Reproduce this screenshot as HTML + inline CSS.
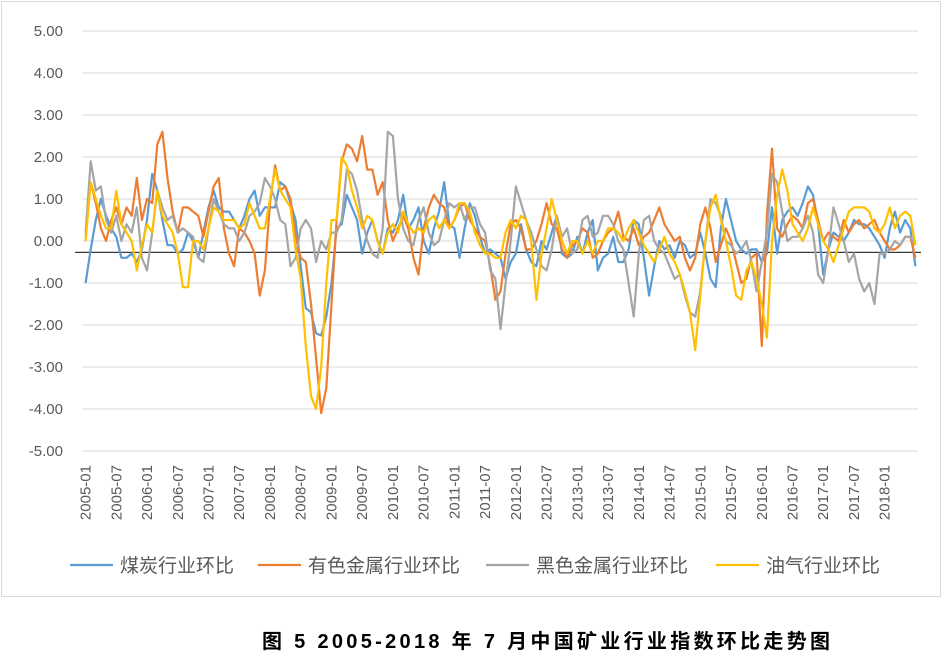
<!DOCTYPE html>
<html><head><meta charset="utf-8"><style>
body{margin:0;background:#fff;}
svg{display:block;font-family:"Liberation Sans","Noto Sans CJK SC",sans-serif;}
</style></head><body>
<svg id="chart" width="945" height="655" viewBox="0 0 945 655">
<rect x="1.5" y="1.5" width="939" height="595" fill="#fff" stroke="#d9d9d9"/>
<g id="grid"></g>
<g id="ylabels"></g>
<g id="xlabels"></g>
<g id="series"></g>
<g id="legend"></g>
<text x="262" y="648" font-size="20" font-weight="bold" fill="#000" textLength="568" lengthAdjust="spacing" font-family="'Liberation Sans','Noto Sans CJK SC',sans-serif">图 5  2005-2018 年 7 月中国矿业行业指数环比走势图</text>
</svg>
<script>
const yTicks=[5,4,3,2,1,0,-1,-2,-3,-4,-5];
const coal=[-1.0,-0.2,0.5,1.0,0.6,0.3,0.1,-0.4,-0.4,-0.3,-0.5,-0.2,
0.5,1.6,1.2,0.5,-0.1,-0.1,-0.3,-0.2,0.2,0.0,-0.4,0.2,
0.8,1.2,0.8,0.7,0.7,0.5,0.3,0.6,1.0,1.2,0.6,0.8,
0.8,0.8,1.4,1.3,0.9,0.5,-0.6,-1.6,-1.7,-2.2,-2.25,-1.8,
-1.0,0.3,0.4,1.1,0.8,0.5,-0.3,0.2,0.5,0.0,-0.3,0.3,
0.2,0.5,1.1,0.3,0.5,0.8,0.0,-0.3,0.3,0.7,1.4,0.4,
0.3,-0.4,0.3,0.9,0.6,0.1,-0.3,-0.2,-0.3,-0.4,-0.9,-0.5,
-0.3,0.4,-0.2,-0.5,-0.6,0.0,-0.2,0.2,0.6,-0.3,-0.4,-0.3,
0.1,-0.3,0.2,0.5,-0.7,-0.4,-0.3,0.1,-0.5,-0.5,-0.2,0.5,
0.4,-0.4,-1.3,-0.6,0.0,-0.2,-0.1,-0.4,0.0,-0.1,-0.4,-0.3,
0.2,-0.3,-0.9,-1.1,0.3,1.0,0.5,0.0,-0.2,-0.3,-0.2,-0.2,
-0.5,-0.3,0.8,-0.3,0.5,0.7,0.8,0.6,0.9,1.3,1.1,0.4,
-0.8,-0.2,0.2,0.1,0.0,0.2,0.5,0.4,0.4,0.3,0.1,-0.1,
-0.4,0.3,0.7,0.2,0.5,0.3,-0.6];
const nonferrous=[0.1,1.4,0.9,0.3,0.0,0.5,0.8,0.4,0.8,0.6,1.5,0.5,
1.0,0.9,2.3,2.6,1.5,0.7,0.2,0.8,0.8,0.7,0.6,0.1,
0.7,1.3,1.5,0.3,-0.3,-0.6,0.3,0.2,0.0,-0.3,-1.3,-0.7,
0.9,1.8,1.2,1.3,1.0,0.1,-0.4,-0.5,-1.5,-2.8,-4.1,-3.5,
-1.5,0.5,1.9,2.3,2.2,1.9,2.5,1.7,1.7,1.1,1.4,0.5,
0.0,0.3,0.6,0.3,-0.4,-0.8,0.3,0.8,1.1,0.9,0.8,0.3,
0.5,0.8,0.9,0.5,0.3,0.1,0.0,-0.6,-1.4,-1.2,-0.3,0.4,
0.5,0.3,-0.2,-0.2,0.0,0.4,0.9,0.4,0.3,-0.2,-0.4,-0.1,
0.0,0.3,0.2,-0.4,-0.3,0.0,0.2,0.3,0.7,0.1,0.0,0.3,
-0.1,0.1,0.2,0.5,0.8,0.4,0.2,0.0,0.1,-0.4,-0.7,-0.4,
0.4,0.8,0.3,-0.5,-0.1,0.3,0.0,-0.5,-1.0,-0.9,-0.4,-0.3,
-2.5,0.6,2.2,0.3,0.1,0.4,0.6,0.5,0.3,0.9,1.0,0.5,
0.0,0.2,0.1,0.0,0.5,0.2,0.4,0.5,0.3,0.4,0.5,0.2,
0.0,-0.2,-0.2,-0.1,0.1,0.1,-0.4];
const ferrous=[0.2,1.9,1.2,1.3,0.5,0.2,0.6,0.0,0.4,0.2,0.8,-0.4,
-0.7,0.2,1.2,0.8,0.5,0.6,0.2,0.3,0.2,0.1,-0.4,-0.5,
0.3,1.0,0.7,0.4,0.3,0.3,0.0,0.2,0.6,0.7,0.9,1.5,
1.3,1.0,0.5,0.4,-0.6,-0.4,0.3,0.5,0.3,-0.5,0.0,-0.2,
0.2,0.2,0.5,1.7,1.6,1.2,0.5,0.0,-0.3,-0.4,0.3,2.6,
2.5,1.0,0.3,0.0,-0.1,0.5,0.8,0.2,-0.1,0.0,0.5,0.9,
0.8,0.9,0.5,0.8,0.8,0.4,0.2,-0.7,-0.9,-2.1,-1.0,0.0,
1.3,0.9,0.5,0.2,-0.2,-0.6,-0.7,-0.2,0.6,0.1,0.3,-0.3,
-0.2,0.5,0.6,0.1,0.2,0.6,0.6,0.4,0.0,-0.2,-1.0,-1.8,
-0.3,0.5,0.6,0.0,-0.2,-0.3,-0.6,-0.9,-0.8,-1.3,-1.7,-1.8,
-1.2,0.0,1.0,0.9,0.6,0.0,-0.1,-0.3,-0.2,0.0,-0.5,-1.2,
-0.5,0.2,1.6,1.4,0.7,0.0,0.1,0.1,0.3,0.6,0.2,-0.8,
-1.0,-0.2,0.8,0.4,0.0,-0.5,-0.3,-0.9,-1.2,-1.0,-1.5,-0.3,
-0.3,-0.2,0.0,-0.1,0.1,0.1,-0.1];
const oilgas=[0.0,1.4,1.0,0.6,0.3,0.3,1.2,0.4,0.2,0.0,-0.7,-0.1,
0.4,0.2,1.2,0.6,0.4,0.2,-0.3,-1.1,-1.1,0.0,0.0,-0.2,
0.3,0.8,0.7,0.5,0.5,0.5,0.3,0.4,0.9,0.6,0.3,0.3,
1.0,1.7,1.2,1.0,0.8,-0.2,-0.9,-2.5,-3.7,-4.0,-3.0,-1.0,
0.5,0.5,2.0,1.8,1.2,0.8,0.3,0.6,0.5,0.0,-0.3,0.2,
0.4,0.2,0.7,0.4,0.2,0.3,0.2,0.5,0.6,0.3,0.5,0.3,
0.5,0.9,0.9,0.7,0.2,-0.1,-0.3,-0.3,-0.4,-0.4,0.2,0.5,
0.3,0.6,0.5,0.0,-1.4,-0.3,0.3,1.0,0.5,0.0,-0.3,0.0,
0.0,-0.3,0.0,-0.3,0.0,0.0,0.3,0.3,0.2,0.0,0.3,0.5,
0.2,-0.1,-0.3,-0.5,-0.2,0.1,-0.3,-0.5,-0.8,-1.2,-1.7,-2.6,
-1.3,0.0,0.8,1.1,0.5,0.0,-0.6,-1.3,-1.4,-0.7,-0.5,-0.9,
-1.5,-2.3,0.0,1.1,1.7,1.2,0.4,0.2,0.0,0.3,0.8,0.4,
0.0,-0.2,-0.5,-0.1,0.3,0.7,0.8,0.8,0.8,0.7,0.3,0.2,
0.4,0.8,0.3,0.6,0.7,0.6,-0.1];
const seriesNames=["煤炭行业环比","有色金属行业环比","黑色金属行业环比","油气行业环比"];
const seriesColors=["#5b9bd5","#ed7d31","#a5a5a5","#ffc000"];
const seriesKeys=["coal","nonferrous","ferrous","oilgas"];
const seriesData=[coal,nonferrous,ferrous,oilgas];
const axisValue=-0.27;
const startYear=2005;

const NS="http://www.w3.org/2000/svg";
const X0=83,X1=918,N=coal.length;
const band=(X1-X0)/N;
function xPos(i){return X0+band*(i+0.5);}
function yPos(v){return 241-42*v;}
function mk(tag,attrs,parent){const e=document.createElementNS(NS,tag);for(const k in attrs)e.setAttribute(k,attrs[k]);parent.appendChild(e);return e;}
const grid=document.getElementById('grid'),yl=document.getElementById('ylabels'),xl=document.getElementById('xlabels'),sg=document.getElementById('series'),lg=document.getElementById('legend');
yTicks.forEach(t=>{
  const l=mk('line',{x1:X0,x2:X1,y1:yPos(t),y2:yPos(t),stroke:'#d9d9d9','stroke-width':1},grid);
  
  
  const tx=mk('text',{x:63,y:yPos(t)+5,'text-anchor':'end','font-size':15,fill:'#595959'},yl);
  tx.textContent=t.toFixed(2);
  
  
});
const ax=mk('line',{x1:X0-8,x2:X1+3,y1:yPos(axisValue),y2:yPos(axisValue),stroke:'#3a3a3a','stroke-width':1.2},grid);


for(let i=0;i<N-1;i+=6){
  const y=startYear+Math.floor(i/12),m=(i%12)+1;
  const lab=y+'-'+(m<10?'0':'')+m;
  const x=xPos(i)+5;
  const tx=mk('text',{x:x,y:465,'text-anchor':'end','font-size':15,fill:'#595959',transform:'rotate(-90 '+x+' 465)'},xl);
  tx.textContent=lab;
  
  
}
seriesData.forEach((d,s)=>{
  const pts=d.map((v,i)=>xPos(i).toFixed(1)+','+yPos(v).toFixed(1)).join(' ');
  const p=mk('polyline',{points:pts,fill:'none',stroke:seriesColors[s],'stroke-width':2.2,'stroke-linejoin':'round'},sg);
  
  
});
const legX=[70,258,486,716];
seriesNames.forEach((n,s)=>{
  const g=mk('g',{},lg);
  
  
  mk('line',{x1:legX[s],x2:legX[s]+43,y1:565,y2:565,stroke:seriesColors[s],'stroke-width':2.2},g);
  const t=mk('text',{x:legX[s]+50,y:572,'font-size':19,fill:'#595959'},g);
  t.textContent=n;
});
</script>
</body></html>
